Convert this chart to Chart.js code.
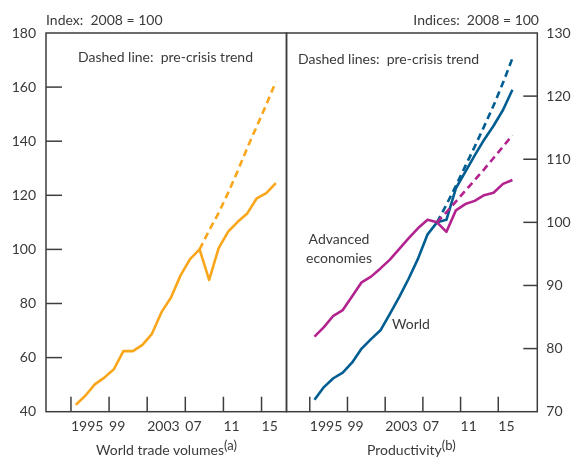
<!DOCTYPE html>
<html>
<head>
<meta charset="utf-8">
<script src="https://cdn.jsdelivr.net/npm/chart.js@4.4.1/dist/chart.umd.min.js"></script>
<style>
  html, body { margin:0; padding:0; background:#fff; }
  #wrap { position:relative; width:575px; height:458px; background:#fff; overflow:hidden; }
  canvas { position:absolute; left:0; top:0; }
  .t { position:absolute; font-family:Lato, "Open Sans", sans-serif; font-size:14px; color:#3a3a3a; white-space:pre; line-height:16px; }
  .t sup { font-size:13px; position:relative; top:-5px; vertical-align:baseline; line-height:0; }
</style>
</head>
<body>
<div id="wrap">
  <canvas id="c1" width="575" height="458"></canvas>
  <canvas id="c2" width="575" height="458"></canvas>
  <div class="t" style="left:46px; top:12px;">Index:  2008 = 100</div>
  <div class="t" style="right:36px; top:12px; text-align:right;">Indices:  2008 = 100</div>
  <div class="t" style="left:78px; top:49px;">Dashed line:  pre-crisis trend</div>
  <div class="t" style="left:298px; top:51px;">Dashed lines:  pre-crisis trend</div>
  <div class="t" style="left:298px; top:229px; width:82px; text-align:center; line-height:19px;">Advanced
economies</div>
  <div class="t" style="left:392px; top:316px;">World</div>
  <div class="t" style="left:96px; top:442px;">World trade volumes<sup>(a)</sup></div>
  <div class="t" style="left:367px; top:442px;">Productivity<sup>(b)</sup></div>
</div>
<script>
// ---- data ----
const years = [1995,1996,1997,1998,1999,2000,2001,2002,2003,2004,2005,2006,2007,2008,2009,2010,2011,2012,2013,2014,2015,2016];
const trendYears = [2008,2009,2010,2011,2012,2013,2014,2015,2016];
const tradeVolumes = [42.5,45.9,50.1,52.6,55.7,62.4,62.4,64.7,68.8,76.8,82.2,90.4,96.4,100,88.7,100.5,106.6,110.2,113.3,118.9,120.8,124.5];
const tradeTrend = [100,107,113.5,121,129,137.5,145.5,153.5,162];
const advancedProd = [81.9,83.4,85.2,86.1,88.3,90.5,91.4,92.7,94.1,95.8,97.5,99.1,100.4,100,98.5,101.9,102.9,103.4,104.3,104.7,106.1,106.7];
const worldProd = [71.9,73.9,75.3,76.2,77.8,80.0,81.5,82.9,85.5,88.2,91.1,94.3,98.1,100,100.4,105.4,108,110.6,113.1,115.3,117.8,121];
const advancedTrend = [100,101.6,103.3,105,106.7,108.4,110.2,112,113.8];
const worldTrend = [100,102.8,105.8,108.9,112,115.2,118.5,122.1,126];
const tickYears = [1995,1999,2003,2007,2011,2015];
const tickLabels = ['1995','99','2003','07','11','15'];
const leftTicks = [40,60,80,100,120,140,160,180];
const rightTicks = [70,80,90,100,110,120,130];

// ---- styles ----
const ORANGE = '#F9A61B';
const BLUE = '#005D92';
const MAGENTA = '#B3238F';
const AXIS = '#3d3d3d';
const TXT = '#3a3a3a';
const FONT = {family:'Lato, "Open Sans", sans-serif', size:14};

const pts = (xs, ys) => xs.map((x,i)=>({x:x, y:ys[i]}));

const frame = {
  id:'frame',
  afterDraw(chart, args, opts){
    const {ctx, chartArea:a, scales} = chart;
    ctx.save();
    ctx.strokeStyle = AXIS; ctx.lineWidth = 1.5;
    ctx.strokeRect(a.left, a.top, a.right-a.left, a.bottom-a.top);
    const ys = scales.y;
    ys.ticks.forEach(t => {
      const p = ys.getPixelForValue(t.value);
      if (p <= a.top+1 || p >= a.bottom-1) return;
      ctx.beginPath();
      if (opts.side === 'left') { ctx.moveTo(a.left, p); ctx.lineTo(a.left+16, p); }
      else { ctx.moveTo(a.right, p); ctx.lineTo(a.right-14, p); }
      ctx.stroke();
    });
    const xs = scales.x;
    xs.ticks.forEach(t => {
      const p = xs.getPixelForValue(t.value);
      ctx.beginPath(); ctx.moveTo(p, a.bottom); ctx.lineTo(p, a.bottom-15); ctx.stroke();
    });
    ctx.restore();
  }
};

function xScale(min, max){
  return {
    type:'linear', position:'bottom', min:min, max:max,
    grid:{display:false, drawTicks:false},
    border:{display:false},
    afterBuildTicks: s => { s.ticks = tickYears.map(v => ({value: v - 0.5})); },
    afterFit: s => { s.height = 46.3; },
    ticks:{ align:'start', padding:6, color:TXT, font:FONT, maxRotation:0, autoSkip:false,
      callback: (v) => { const i = tickYears.indexOf(Math.round(v + 0.5)); return i >= 0 ? tickLabels[i] : ''; } }
  };
}

function lineDs(data, color, dashed){
  return { data:data, borderColor:color, borderWidth:2.6, pointRadius:0, tension:0, fill:false,
    borderDash: dashed ? [7,4.5] : [], borderJoinStyle:'round', borderCapStyle:'butt' };
}

new Chart(document.getElementById('c1'), {
  type:'line',
  data:{ datasets:[
    lineDs(pts(trendYears, tradeTrend), ORANGE, true),
    lineDs(pts(years, tradeVolumes), ORANGE, false)
  ]},
  options:{
    responsive:false, animation:false, devicePixelRatio:1,
    layout:{ padding:{left:0, top:33, right:288.5, bottom:0} },
    plugins:{ legend:{display:false}, tooltip:{enabled:false}, frame:{side:'left'} },
    scales:{
      x: xScale(1991.88, 2017.12),
      y: { type:'linear', position:'left', min:40, max:180,
        grid:{display:false, drawTicks:false}, border:{display:false},
        afterBuildTicks: s => { s.ticks = leftTicks.map(v => ({value:v})); },
        afterFit: s => { s.width = 46; },
        ticks:{ padding:10, color:TXT, font:FONT } }
    }
  },
  plugins:[frame]
});

new Chart(document.getElementById('c2'), {
  type:'line',
  data:{ datasets:[
    lineDs(pts(trendYears, advancedTrend), MAGENTA, true),
    lineDs(pts(trendYears, worldTrend), BLUE, true),
    lineDs(pts(years, advancedProd), MAGENTA, false),
    lineDs(pts(years, worldProd), BLUE, false)
  ]},
  options:{
    responsive:false, animation:false, devicePixelRatio:1,
    layout:{ padding:{left:286.5, top:33, right:0, bottom:0} },
    plugins:{ legend:{display:false}, tooltip:{enabled:false}, frame:{side:'right'} },
    scales:{
      x: xScale(1992.03, 2018.64),
      y: { type:'linear', position:'right', min:70, max:130,
        grid:{display:false, drawTicks:false}, border:{display:false},
        afterBuildTicks: s => { s.ticks = rightTicks.map(v => ({value:v})); },
        afterFit: s => { s.width = 37.7; },
        ticks:{ padding:9, color:TXT, font:FONT } }
    }
  },
  plugins:[frame]
});
</script>
</body>
</html>
